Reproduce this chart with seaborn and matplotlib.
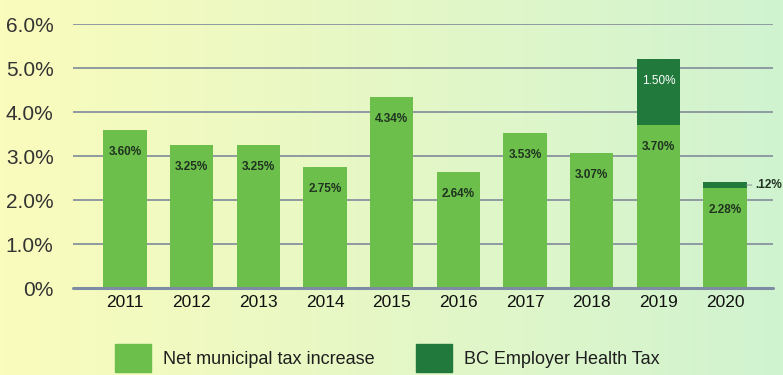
import matplotlib
matplotlib.use("Agg")
import matplotlib.pyplot as plt
import matplotlib.patches as mpatches
import numpy as np
import pandas as pd
import seaborn as sns

years = ["2011", "2012", "2013", "2014", "2015", "2016", "2017", "2018", "2019", "2020"]
net_increase = [3.60, 3.25, 3.25, 2.75, 4.34, 2.64, 3.53, 3.07, 3.70, 2.28]
health_tax = [0.0, 0.0, 0.0, 0.0, 0.0, 0.0, 0.0, 0.0, 1.50, 0.12]
y_ticks = [0, 1, 2, 3, 4, 5, 6]
y_tick_labels = ["0%", "1.0%", "2.0%", "3.0%", "4.0%", "5.0%", "6.0%"]
series_names = ["Net municipal tax increase", "BC Employer Health Tax"]

light_green = "#6cbf4a"
dark_green = "#217a3c"

df = pd.DataFrame({"year": years, "net": net_increase, "eht": health_tax})
df["total"] = df["net"] + df["eht"]

sns.set_theme(style="white")
plt.rcParams["font.family"] = ["Liberation Sans", "DejaVu Sans"]

fig = plt.figure(figsize=(7.83, 3.75), dpi=100)

# soft yellow-to-mint background wash
bg = fig.add_axes([0, 0, 1, 1], zorder=-10)
c_left = np.array([250, 252, 188]) / 255.0
c_right = np.array([208, 243, 208]) / 255.0
t = np.linspace(0, 1, 256)
grad = (c_left[None, :] * (1 - t[:, None]) + c_right[None, :] * t[:, None])[None, :, :]
bg.imshow(grad, aspect="auto", extent=[0, 1, 0, 1])
bg.set_axis_off()

ax = fig.add_axes([73 / 783, 87 / 375, 700 / 783, 264 / 375])
ax.patch.set_alpha(0)

bar_w = 0.65
sns.barplot(data=df, x="year", y="total", color=dark_green, width=bar_w,
            saturation=1, linewidth=0, edgecolor="none", ax=ax, zorder=3)
sns.barplot(data=df, x="year", y="net", color=light_green, width=bar_w,
            saturation=1, linewidth=0, edgecolor="none", ax=ax, zorder=4)

ax.set_xlim(-0.78, 9.72)
ax.set_ylim(0, 6)
ax.set_yticks(y_ticks)
ax.set_yticklabels(y_tick_labels)
ax.set_xlabel("")
ax.set_ylabel("")
for s in ax.spines.values():
    s.set_visible(False)

for yv in y_ticks[1:]:
    ax.axhline(yv, color="#8e9aa0", lw=1.4, zorder=1)
ax.axhline(0, color="#7d8ca4", lw=2.2, zorder=5, clip_on=False)

ax.tick_params(axis="y", length=0, pad=14, labelsize=15, labelcolor="#333333")
ax.tick_params(axis="x", length=0, pad=5, labelsize=12.5, labelcolor="#111111")

# value labels inside each segment
for i, (n, e) in enumerate(zip(net_increase, health_tax)):
    ax.annotate(f"{n:.2f}%", (i, n), xytext=(0, -16), textcoords="offset points",
                ha="center", va="center", fontsize=8.5, fontweight="bold",
                color="#1f3320", zorder=6)
    if e >= 1:
        ax.annotate(f"{e:.2f}%", (i, n + e), xytext=(0, -16), textcoords="offset points",
                    ha="center", va="center", fontsize=8.5, color="white", zorder=6)
    elif e > 0:
        x_edge = i + bar_w / 2
        ax.annotate(f".{int(round(e * 100)):02d}%", (x_edge, n + e / 2), xytext=(6, 0),
                    textcoords="offset points", ha="left", va="center", fontsize=8.5,
                    fontweight="bold", color="#1f3320", annotation_clip=False,
                    arrowprops=dict(arrowstyle="-", color="#8e9aa0", lw=0.8,
                                    shrinkA=0, shrinkB=0))

handles = [mpatches.Patch(color=light_green, label=series_names[0]),
           mpatches.Patch(color=dark_green, label=series_names[1])]
fig.legend(handles=handles, loc="center", bbox_to_anchor=(0.495, 0.045), ncol=2,
           frameon=False, fontsize=13, handlelength=2.0, handleheight=2.0,
           handletextpad=0.65, columnspacing=2.3, labelcolor="#1e1e1e")

fig.savefig("out.png", dpi=100)
